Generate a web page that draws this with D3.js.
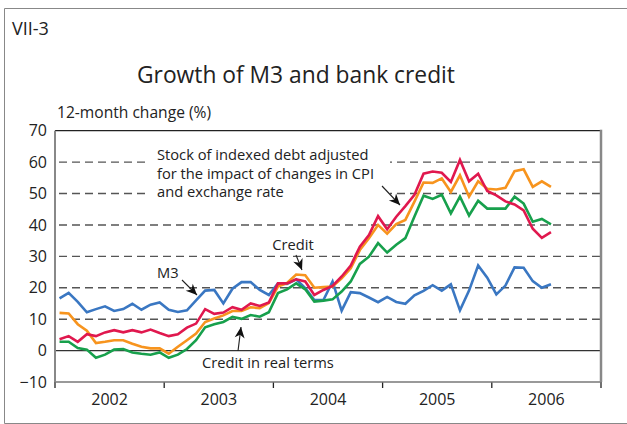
<!DOCTYPE html>
<html><head><meta charset="utf-8">
<script src="https://cdn.jsdelivr.net/npm/d3@7"></script>
<style>
html,body{margin:0;padding:0;background:#fff;}
svg text{font-family:"Open Sans","DejaVu Sans",sans-serif;fill:#222;}
</style></head>
<body>
<svg id="c" width="627" height="424"></svg>
<script>
const years = ["2002","2003","2004","2005","2006"];
const yTicks = [-10,0,10,20,30,40,50,60,70];
const m3 = [16.6,18.4,15.5,12.2,13.2,14.1,12.6,13.2,14.9,13,14.6,15.3,13,12.3,12.8,16,19.1,19.3,15,19.7,21.8,21.8,19.3,17.7,21.4,21.2,22.7,19.9,16.1,16.1,22,12.7,18.6,18.3,16.9,15.4,17.1,15.5,14.9,17.6,19,20.8,19.1,21.1,12.8,19.1,27.1,23.2,17.9,20.7,26.5,26.4,22.1,20,21.1];
const indexedDebt = [3.6,4.6,2.8,5.2,4.6,5.8,6.5,5.8,6.5,5.8,6.7,5.6,4.6,5.2,7.3,8.6,13.2,11.7,12.1,13.8,13,15,14.2,15.3,21.4,21.4,22.7,22,17.7,19.3,20.6,23.6,27.1,33.1,36.8,42.8,38.6,42.6,46,49.6,56.3,57,56.6,53.7,60.7,53.9,56.3,50.8,49.4,47.5,46.5,44.6,38.8,35.9,37.7];
const credit = [12,11.8,8.4,6.3,2.4,2.8,3.3,3.3,2.2,1.2,0.7,0.7,-1,1.2,3.3,5.4,9.1,10.2,11.2,12.6,12.6,13.8,13.5,15.1,20.4,21.5,24.2,24,20,20.2,20.4,23,26.2,32,35.8,40,37.2,40.3,41.6,47.4,53.5,53.4,54.8,50.5,55.8,49,53.9,51.5,51.3,51.8,57.1,57.7,52.1,53.9,52.1];
const creditReal = [2.8,2.8,0.8,0.3,-2.3,-1.3,0.3,0.5,-0.6,-1,-1.3,-0.6,-2.3,-1.3,0.5,3.3,7.4,8.4,9.1,10.7,10.1,11.3,10.8,12.2,18.3,19.5,21.4,19.5,15.6,15.9,16.3,18.8,22,27.6,29.9,34.2,31.2,33.7,35.8,42.7,49.3,48.3,49.6,43.7,49,43,47.7,45.2,45.2,45.2,49,46.8,41,41.9,40.2];

const svg = d3.select("#c");
const L = 55, R = 601, T = 130.7, B = 382;
const x = d3.scaleLinear().domain([0,60]).range([L,R]);
const xb = d3.scaleBand().domain(years).range([L,R]).padding(0);
const y = d3.scaleLinear().domain([-10,70]).range([B,T]);

// outer frame
svg.append("path").attr("d",`M640,8.5H4.5V423.5H640`).attr("fill","none").attr("stroke","#888").attr("stroke-width",1);

svg.append("text").attr("x",12).attr("y",35).attr("font-size",18).text("VII-3");
svg.append("text").attr("x",296).attr("y",83).attr("text-anchor","middle").attr("font-size",22.8).text("Growth of M3 and bank credit");
svg.append("text").attr("x",57).attr("y",118).attr("font-size",15.6).text("12-month change (%)");

// grid
const g = svg.append("g");
g.selectAll("line.grid").data(yTicks.filter(v=>v>0 && v<70)).join("line")
  .attr("x1",L).attr("x2",R).attr("y1",d=>y(d)).attr("y2",d=>y(d))
  .attr("stroke","#555").attr("stroke-width",1.4).attr("stroke-dasharray","8,5").attr("stroke-dashoffset",-4);
g.append("line").attr("x1",L).attr("x2",R).attr("y1",y(0)).attr("y2",y(0)).attr("stroke","#333").attr("stroke-width",1.2);
g.append("line").attr("x1",L).attr("x2",R).attr("y1",y(70)).attr("y2",y(70)).attr("stroke","#222").attr("stroke-width",1.3);
// knockout behind annotation text block
g.append("rect").attr("x",150).attr("y",146).attr("width",240).attr("height",54).attr("fill","#fff");

// y axis
const ya = svg.append("g").attr("transform",`translate(${L},0)`)
  .call(d3.axisLeft(y).tickValues(yTicks).tickSize(0).tickPadding(8).tickFormat(d3.format("d")));
ya.select(".domain").remove();
ya.selectAll("text").attr("font-size",16).attr("fill","#222").attr("font-family","Open Sans");

// x axis
const xa = svg.append("g").attr("transform",`translate(0,${B})`)
  .call(d3.axisBottom(xb).tickSize(0).tickPadding(12));
xa.select(".domain").remove();
xa.selectAll("text").attr("font-size",16).attr("fill","#222").attr("font-family","Open Sans");
svg.selectAll("line.ytick").data(d3.range(0,61,12)).join("line")
  .attr("x1",d=>x(d)).attr("x2",d=>x(d)).attr("y1",B).attr("y2",B+6).attr("stroke","#222").attr("stroke-width",1.3);
svg.append("line").attr("x1",L).attr("x2",R).attr("y1",B).attr("y2",B).attr("stroke","#777").attr("stroke-width",1.6);
svg.append("line").attr("x1",L).attr("x2",L).attr("y1",T).attr("y2",B).attr("stroke","#888").attr("stroke-width",2);
svg.append("line").attr("x1",R).attr("x2",R).attr("y1",T-1).attr("y2",B).attr("stroke","#888").attr("stroke-width",2.5);

// series
const line = d3.line().x((d,i)=>x(i+0.5)).y(d=>y(d));
const series = [
  {v:m3,c:"#3a77c2"},
  {v:creditReal,c:"#17a04c"},
  {v:credit,c:"#f7941e"},
  {v:indexedDebt,c:"#e0184e"}
];
svg.selectAll("path.s").data(series).join("path")
  .attr("d",d=>line(d.v)).attr("fill","none").attr("stroke",d=>d.c)
  .attr("stroke-width",2.6).attr("stroke-linejoin","miter").attr("stroke-miterlimit",3);

// annotations
function arrow(x1,y1,x2,y2){
  svg.append("line").attr("x1",x1).attr("y1",y1).attr("x2",x2).attr("y2",y2).attr("stroke","#222").attr("stroke-width",1.1);
  const a = Math.atan2(y2-y1,x2-x1), len=11, w=5;
  const bx = x2 - len*Math.cos(a), by = y2 - len*Math.sin(a);
  const nx = -Math.sin(a), ny = Math.cos(a);
  const mx = x2 - len*0.7*Math.cos(a), my = y2 - len*0.7*Math.sin(a);
  svg.append("path").attr("d",`M${x2},${y2}L${bx+nx*w},${by+ny*w}L${mx},${my}L${bx-nx*w},${by-ny*w}Z`).attr("fill","#111");
}
const fs = 14.7;
const t1 = svg.append("text").attr("x",157).attr("y",160).attr("font-size",fs);
["Stock of indexed debt adjusted","for the impact of changes in CPI","and exchange rate"].forEach((s,i)=>{
  t1.append("tspan").attr("x",157).attr("dy",i?18.5:0).text(s);
});
arrow(382,186,400,205);
svg.append("text").attr("x",293).attr("y",250).attr("text-anchor","middle").attr("font-size",fs).text("Credit");
arrow(296,255,302,270);
svg.append("text").attr("x",157).attr("y",278).attr("font-size",fs).text("M3");
arrow(182,280,197,295);
svg.append("text").attr("x",202).attr("y",368).attr("font-size",fs).text("Credit in real terms");
arrow(238,351,241,327);
</script>
</body></html>
